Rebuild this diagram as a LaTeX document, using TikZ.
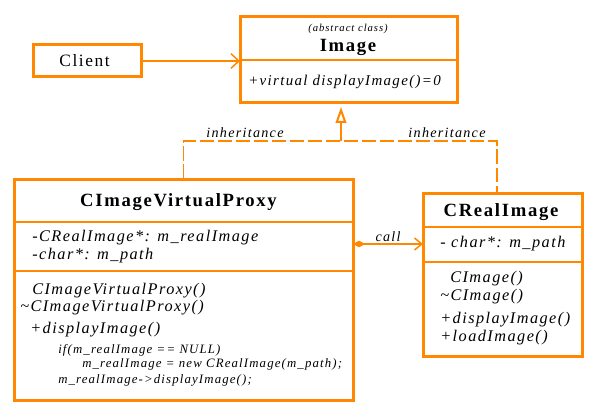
\documentclass[tikz,border=0pt]{standalone}
\usepackage{fontspec}
\setmainfont{Liberation Serif}[LetterSpace=9]
\usepackage{xcolor}
\usepackage{tikz}
\usetikzlibrary{arrows.meta,positioning}
\definecolor{umlorange}{HTML}{FF8800}
\tikzset{
  umlbox/.style={draw=umlorange, line width=2.25pt, fill=white,
    inner sep=0pt, outer sep=0pt},
  umldivider/.style={draw=umlorange, line width=0.9pt},
  umltitle/.style={font=\fontsize{14}{16}\selectfont\bfseries, inner sep=0pt},
  umlitem/.style={font=\fontsize{12.2}{14}\selectfont\itshape, anchor=west,
    inner sep=0pt},
  umlcode/.style={font=\fontsize{9.6}{11}\selectfont\itshape, anchor=west,
    inner sep=0pt},
  umllabel/.style={font=\fontsize{10.6}{12}\selectfont\itshape, inner sep=0pt},
  umlarrow/.style={-{Straight Barb[length=6pt, width=11pt]}, line width=1.1pt,
    draw=umlorange},
  umlcall/.style={{Diamond[length=9pt, width=5pt, fill=umlorange]}-{Straight Barb[length=5.5pt, width=9pt]},
    line width=1.1pt, draw=umlorange},
  umlinherit/.style={-{Triangle[open, length=12pt, width=8pt, line width=1.5pt]},
    line width=1.1pt, draw=umlorange, shorten >=3pt},
  umldash/.style={draw=umlorange, line width=0.9pt,
    dash pattern=on 11pt off 2.5pt}
}
\begin{document}
\begin{tikzpicture}[x=0.75pt, y=-0.75pt]
  \useasboundingbox (0,0) rectangle (599,417);

  \node[umlbox, minimum width=81pt, minimum height=24pt] (client) at (87,61) {};
  \node[font=\fontsize{13}{15}\selectfont, inner sep=0pt] (clientname)
    at (84.5,61) {Client};

  \node[umlbox, minimum width=162.75pt, minimum height=64.5pt] (image)
    at (348.5,60) {};
  \node[font=\fontsize{8}{9}\selectfont\itshape, inner sep=0pt] (abstract)
    at (348,29) {(abstract class)};
  \node[umltitle] (imagename) at (348,47) {Image};
  \node[umlitem, font=\fontsize{11.2}{13}\selectfont\itshape] (imageop)
    at (248,82) {+virtual displayImage()=0};
  \draw[umldivider] (image.west |- 0,60) -- (image.east |- 0,60);

  \node[umlbox, minimum width=254.25pt, minimum height=165.75pt] (proxy)
    at (183.5,289.5) {};
  \node[umltitle] (proxyname) at (178.5,202) {CImageVirtualProxy};
  \node[umlitem] (proxyreal) at (32,238) {-CRealImage*: m\_realImage};
  \node[umlitem] (proxypath) at (32,256) {-char*: m\_path};
  \node[umlitem] (proxyctor) at (32,291) {CImageVirtualProxy()};
  \node[umlitem] (proxydtor) at (20,308) {\textasciitilde CImageVirtualProxy()};
  \node[umlitem] (proxyshow) at (30,330) {+displayImage()};
  \node[umlcode] (codeif) at (58,350) {if(m\_realImage == NULL)};
  \node[umlcode] (codenew) at (82,364)
    {m\_realImage = new CRealImage(m\_path);};
  \node[umlcode] (codecall) at (58,380) {m\_realImage->displayImage();};
  \draw[umldivider] (proxy.west |- 0,222) -- (proxy.east |- 0,222);
  \draw[umldivider] (proxy.west |- 0,271) -- (proxy.east |- 0,271);

  \node[umlbox, minimum width=119.25pt, minimum height=122.25pt] (real)
    at (502.5,274.5) {};
  \node[umltitle] (realname) at (501,212) {CRealImage};
  \node[umlitem] (realpath) at (440,244) {- char*: m\_path};
  \node[umlitem] (realctor) at (450,279) {CImage()};
  \node[umlitem] (realdtor) at (440,297) {\textasciitilde CImage()};
  \node[umlitem] (realshow) at (440,320) {+displayImage()};
  \node[umlitem] (realload) at (440,338) {+loadImage()};
  \draw[umldivider] (real.west |- 0,227) -- (real.east |- 0,227);
  \draw[umldivider] (real.west |- 0,262) -- (real.east |- 0,262);

  \coordinate (junction) at (341,141);
  \coordinate (realjoin) at (497,193);
  \draw[umlarrow] (client.east) -- (client.east -| image.west);
  \draw[umldash] (proxy.north) |- (junction) -| (realjoin);
  \draw[umlinherit] (junction) -- (junction |- image.south);
  \draw[umlcall] (proxy.east |- realpath) -- (real.west |- realpath);

  \node[umllabel] (inhleft) at (245,133) {inheritance};
  \node[umllabel] (inhright) at (447,133) {inheritance};
  \node[umllabel] (calllabel) at (388,237) {call};
\end{tikzpicture}
\end{document}
